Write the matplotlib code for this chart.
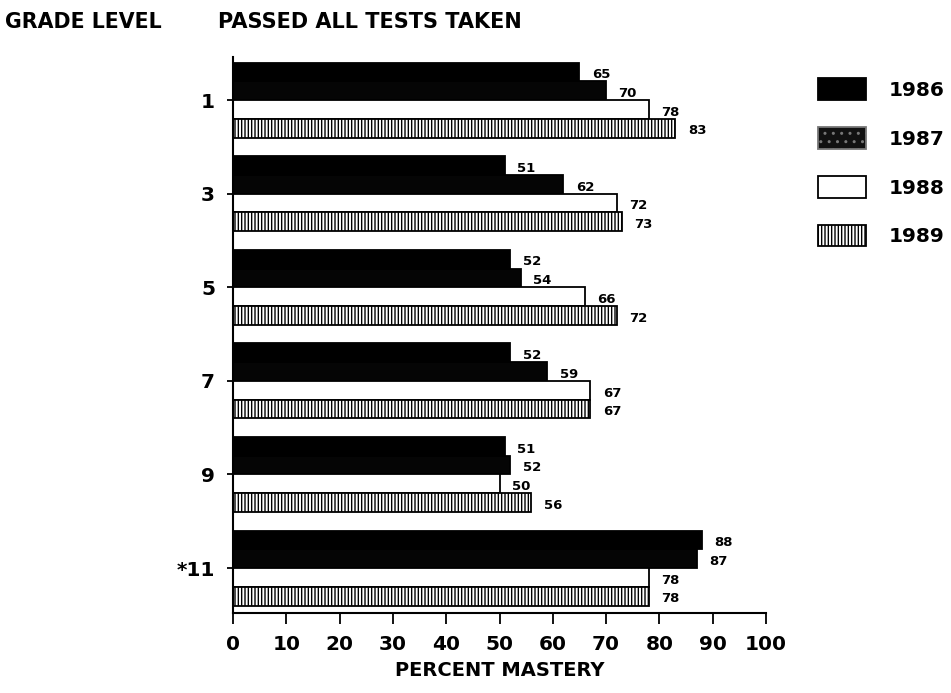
import matplotlib
matplotlib.use("Agg")
import matplotlib.pyplot as plt
from matplotlib.patches import Patch
import numpy as np

grades = ["1", "3", "5", "7", "9", "*11"]
years = ["1986", "1987", "1988", "1989"]
v1986 = [65, 51, 52, 52, 51, 88]
v1987 = [70, 62, 54, 59, 52, 87]
v1988 = [78, 72, 66, 67, 50, 78]
v1989 = [83, 73, 72, 67, 56, 78]
series = [v1986, v1987, v1988, v1989]
x_ticks = list(range(0, 101, 10))

plt.rcParams['font.family'] = ['DejaVu Sans']
plt.rcParams['font.weight'] = 'bold'
plt.rcParams['hatch.linewidth'] = 1.0

fig = plt.figure(figsize=(9.51, 6.93), dpi=100)
ax = fig.add_axes([0.245, 0.1154, 0.5605, 0.8023])

styles = [
    dict(facecolor='black', edgecolor='black', hatch=None),
    dict(facecolor='#050505', edgecolor='black', hatch=None),
    dict(facecolor='white', edgecolor='black', hatch=None),
    dict(facecolor='white', edgecolor='black', hatch='|||||'),
]

h = 0.2
y = np.arange(len(grades))
for i, (vals, st) in enumerate(zip(series, styles)):
    pos = y - 0.3 + i * h
    ax.barh(pos, vals, height=h, linewidth=1.3, **st)
    for p, v in zip(pos, vals):
        ax.annotate(str(v), xy=(v, p), xytext=(9, -2), textcoords='offset points',
                    ha='left', va='center', fontsize=9.5, fontweight='bold')

ax.set_xlim(0, 100)
ax.set_ylim(len(grades) - 1 + 0.48, -0.46)
ax.set_xticks(x_ticks)
ax.set_xticklabels([str(t) for t in x_ticks], fontsize=14.5, fontweight='bold')
ax.set_yticks(y)
ax.set_yticklabels(grades, fontsize=14.5, fontweight='bold')
ax.tick_params(axis='x', direction='out', length=8, width=1.3, pad=8)
ax.tick_params(axis='y', direction='out', length=4, width=1.3, pad=9)
for s in ['top', 'right']:
    ax.spines[s].set_visible(False)
for s in ['left', 'bottom']:
    ax.spines[s].set_linewidth(1.5)
ax.set_xlabel("PERCENT MASTERY", fontsize=14, fontweight='bold', labelpad=5)

fig.text(0.005, 0.968, "GRADE LEVEL", fontsize=14.8, fontweight='bold', ha='left', va='center')
fig.text(0.229, 0.968, "PASSED ALL TESTS TAKEN", fontsize=15, fontweight='bold', ha='left', va='center')

handles = [
    Patch(facecolor='black', edgecolor='black', linewidth=1.3),
    Patch(facecolor='#111111', edgecolor='#777777', hatch='..', linewidth=1.3),
    Patch(facecolor='white', edgecolor='black', linewidth=1.3),
    Patch(facecolor='white', edgecolor='black', hatch='|||||', linewidth=1.3),
]
fs = 14.5
fig.legend(handles, years, loc='upper left', bbox_to_anchor=(0.860, 0.887),
           frameon=False, borderpad=0, borderaxespad=0,
           prop={'size': fs, 'weight': 'bold'},
           handlelength=2.4, handleheight=1.3, handletextpad=1.1, labelspacing=1.33)

fig.savefig("out.png", dpi=100)
